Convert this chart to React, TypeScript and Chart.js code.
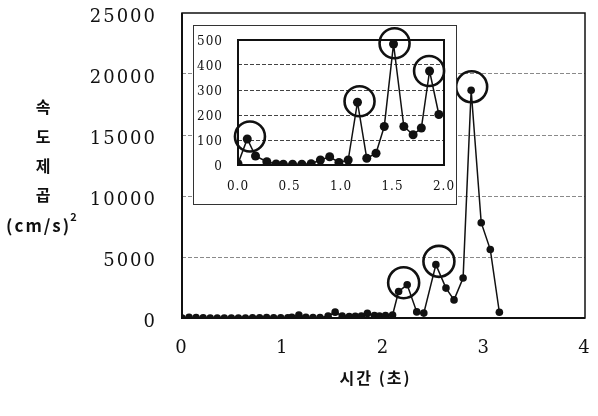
import React, { useEffect, useRef } from 'react';
import { Chart, registerables } from 'chart.js';

Chart.register(...registerables);

// ---- main chart data ----
const mainTime = [
  0.0, 0.07, 0.14, 0.21, 0.28, 0.35, 0.42, 0.49, 0.56, 0.63, 0.7, 0.77, 0.84, 0.91, 0.98, 1.05,
  1.09, 1.16, 1.23, 1.3, 1.37, 1.45, 1.52, 1.59, 1.66, 1.72, 1.78, 1.84, 1.91, 1.96, 2.02, 2.09,
  2.15, 2.235, 2.33, 2.4, 2.52, 2.62, 2.7, 2.79, 2.87, 2.97, 3.06, 3.15,
];
const mainValue = [
  5, 60, 30, 10, 5, 3, 3, 3, 3, 5, 10, 20, 30, 15, 10, 20,
  60, 250, 60, 30, 45, 150, 480, 160, 120, 140, 150, 376, 200, 150, 200, 250,
  2170, 2720, 500, 400, 4373, 2450, 1485, 3275, 18670, 7810, 5610, 470,
];
const mainCircleTime = [2.2, 2.55, 2.875];
const mainCircleValue = [2890, 4645, 18950];
const mainXTicks = [0, 1, 2, 3, 4];
const mainYTicks = [0, 5000, 10000, 15000, 20000, 25000];

// ---- inset data ----
const insetTime = [
  0.0, 0.09, 0.17, 0.28, 0.37, 0.44, 0.53, 0.62, 0.71, 0.8, 0.89, 0.98, 1.07, 1.16, 1.25, 1.34,
  1.42, 1.51, 1.61, 1.7, 1.78, 1.86, 1.95,
];
const insetValue = [
  5, 104, 36, 13, 4, 3, 3, 3, 5, 20, 33, 10, 20, 251, 27, 47,
  154, 484, 154, 121, 148, 376, 202,
];
const insetCircleTime = [0.116, 1.18, 1.52, 1.855];
const insetCircleValue = [114, 255, 487, 376];
const insetXTicks = [0, 0.5, 1.0, 1.5, 2.0];
const insetYTicks = [0, 100, 200, 300, 400, 500];

const yTitleLines = ['속', '도', '제', '곱'];
const yTitleUnit = '(cm/s)';
const xTitle = '시간 (초)';

const INK = '#111';
const SERIF = '"DejaVu Serif", serif';
const KR = '"Noto Sans CJK KR", "Noto Sans", sans-serif';

const zip = (xs: number[], ys: number[]) => xs.map((x, i) => ({ x, y: ys[i] }));

const zeroPad = (s: any) => {
  s.paddingTop = 0;
  s.paddingBottom = 0;
  s.paddingLeft = 0;
  s.paddingRight = 0;
};

const mainDecor = {
  id: 'mainDecor',
  beforeDraw(chart: any) {
    chart.ctx.letterSpacing = '2px';
  },
  beforeDatasetsDraw(chart: any) {
    const { ctx, chartArea: a } = chart;
    ctx.save();
    ctx.strokeStyle = INK;
    ctx.lineWidth = 1.5;
    ctx.strokeRect(a.left, a.top, a.right - a.left, a.bottom - a.top);
    ctx.lineWidth = 2;
    ctx.beginPath();
    ctx.moveTo(a.left, a.top);
    ctx.lineTo(a.left, a.bottom);
    ctx.lineTo(a.right, a.bottom);
    ctx.stroke();
    ctx.restore();
  },
  afterDraw(chart: any) {
    const { ctx, chartArea: a } = chart;
    ctx.save();
    ctx.fillStyle = INK;
    ctx.textAlign = 'center';
    ctx.textBaseline = 'middle';
    ctx.letterSpacing = '0px';
    ctx.font = `bold 16px ${KR}`;
    const ys = [107, 137, 166, 195];
    yTitleLines.forEach((s, i) => ctx.fillText(s, 43, ys[i]));
    ctx.letterSpacing = '2px';
    ctx.font = `bold 17px ${KR}`;
    ctx.textAlign = 'left';
    const w = ctx.measureText(yTitleUnit).width;
    const sx = 6;
    ctx.fillText(yTitleUnit, sx, 226);
    ctx.letterSpacing = '0px';
    ctx.font = `bold 11px ${KR}`;
    ctx.fillText('2', sx + w - 1, 217);
    ctx.font = `bold 16px ${KR}`;
    ctx.letterSpacing = '2px';
    ctx.textAlign = 'center';
    ctx.fillText(xTitle, (a.left + a.right) / 2 - 8, 378);
    ctx.restore();
  },
};

const insetDecor = {
  id: 'insetDecor',
  beforeDraw(chart: any) {
    chart.ctx.letterSpacing = '1px';
  },
  beforeDatasetsDraw(chart: any) {
    const { ctx, chartArea: a } = chart;
    ctx.save();
    ctx.strokeStyle = INK;
    ctx.lineWidth = 2;
    ctx.strokeRect(a.left, a.top, a.right - a.left, a.bottom - a.top);
    ctx.restore();
  },
};

export default function App() {
  const mainRef = useRef<HTMLCanvasElement | null>(null);
  const insetRef = useRef<HTMLCanvasElement | null>(null);

  useEffect(() => {
    const main = new Chart(mainRef.current as HTMLCanvasElement, {
      type: 'line',
      data: {
        datasets: [
          {
            data: zip(mainTime, mainValue),
            borderColor: INK,
            borderWidth: 1.5,
            pointRadius: 3.8,
            pointBackgroundColor: INK,
            pointBorderWidth: 0,
            tension: 0,
          },
          {
            data: zip(mainCircleTime, mainCircleValue),
            showLine: false,
            pointRadius: 15.5,
            pointBorderWidth: 2.6,
            pointBorderColor: INK,
            pointBackgroundColor: 'rgba(0,0,0,0)',
            clip: false as any,
          },
        ],
      },
      options: {
        responsive: false,
        animation: false,
        devicePixelRatio: 1,
        layout: { autoPadding: false, padding: { top: 13, right: 13, left: 0, bottom: 0 } },
        plugins: { legend: { display: false }, tooltip: { enabled: false } },
        scales: {
          x: {
            type: 'linear',
            min: 0,
            max: 4,
            afterBuildTicks: (s: any) => {
              s.ticks = mainXTicks.map((v) => ({ value: v }));
            },
            afterFit: (s: any) => {
              s.height = 98;
              zeroPad(s);
            },
            grid: { display: false, drawTicks: false },
            border: { display: false },
            ticks: {
              padding: 20,
              color: INK,
              font: { family: SERIF, size: 18 },
              callback: (v: any) => String(v),
            },
          },
          y: {
            type: 'linear',
            min: 0,
            max: 25000,
            afterBuildTicks: (s: any) => {
              s.ticks = mainYTicks.map((v) => ({ value: v }));
            },
            afterFit: (s: any) => {
              s.width = 182;
              zeroPad(s);
            },
            grid: {
              drawTicks: false,
              lineWidth: 1,
              color: (c: any) =>
                c.tick && (c.tick.value === 0 || c.tick.value === 25000) ? 'rgba(0,0,0,0)' : '#8a8a8a',
            },
            border: { display: false, dash: [4, 2] },
            ticks: {
              padding: 25,
              labelOffset: 4,
              color: INK,
              font: { family: SERIF, size: 18 },
              callback: (v: any) => String(v),
            },
          },
        },
      },
      plugins: [mainDecor],
    } as any);

    const inset = new Chart(insetRef.current as HTMLCanvasElement, {
      type: 'line',
      data: {
        datasets: [
          {
            data: zip(insetTime, insetValue),
            borderColor: INK,
            borderWidth: 1.5,
            pointRadius: 4.5,
            pointBackgroundColor: INK,
            pointBorderWidth: 0,
            tension: 0,
          },
          {
            data: zip(insetCircleTime, insetCircleValue),
            showLine: false,
            pointRadius: 15,
            pointBorderWidth: 2.6,
            pointBorderColor: INK,
            pointBackgroundColor: 'rgba(0,0,0,0)',
            clip: false as any,
          },
        ],
      },
      options: {
        responsive: false,
        animation: false,
        devicePixelRatio: 1,
        layout: { autoPadding: false, padding: { top: 14, right: 12, left: 0, bottom: 0 } },
        plugins: { legend: { display: false }, tooltip: { enabled: false } },
        scales: {
          x: {
            type: 'linear',
            min: 0,
            max: 2,
            afterBuildTicks: (s: any) => {
              s.ticks = insetXTicks.map((v) => ({ value: v }));
            },
            afterFit: (s: any) => {
              s.height = 39;
              zeroPad(s);
            },
            grid: { display: false, drawTicks: false },
            border: { display: false },
            ticks: {
              padding: 15,
              color: INK,
              font: { family: SERIF, size: 12 },
              callback: (v: any) => Number(v).toFixed(1),
            },
          },
          y: {
            type: 'linear',
            min: 0,
            max: 500,
            afterBuildTicks: (s: any) => {
              s.ticks = insetYTicks.map((v) => ({ value: v }));
            },
            afterFit: (s: any) => {
              s.width = 44;
              zeroPad(s);
            },
            grid: {
              drawTicks: false,
              lineWidth: 1,
              color: (c: any) =>
                c.tick && (c.tick.value === 0 || c.tick.value === 500) ? 'rgba(0,0,0,0)' : '#444',
            },
            border: { display: false, dash: [4, 2] },
            ticks: {
              padding: 15,
              labelOffset: 2,
              color: INK,
              font: { family: SERIF, size: 12 },
              callback: (v: any) => String(v),
            },
          },
        },
      },
      plugins: [insetDecor],
    } as any);

    return () => {
      main.destroy();
      inset.destroy();
    };
  }, []);

  return (
    <div style={{ position: 'fixed', left: 0, top: 0, width: 598, height: 416, background: '#fff' }}>
      <canvas ref={mainRef} width={598} height={416} style={{ position: 'absolute', left: 0, top: 0 }} />
      <div
        style={{
          position: 'absolute',
          left: 193,
          top: 25,
          width: 264,
          height: 180,
          boxSizing: 'border-box',
          border: '1px solid #333',
          background: '#fff',
        }}
      >
        <canvas ref={insetRef} width={262} height={178} style={{ display: 'block' }} />
      </div>
    </div>
  );
}
